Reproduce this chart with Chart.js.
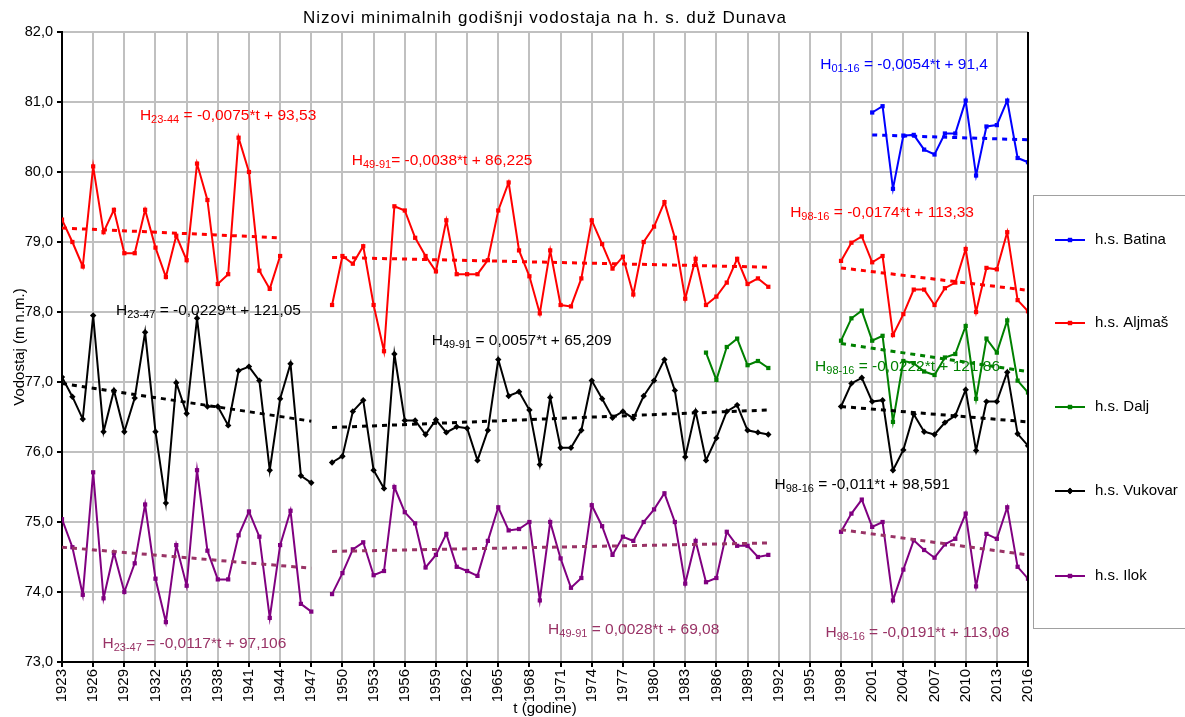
<!DOCTYPE html>
<html>
<head>
<meta charset="utf-8">
<script src="https://cdn.jsdelivr.net/npm/chart.js@4.4.1/dist/chart.umd.min.js"></script>
<style>
  html, body { margin: 0; padding: 0; background: #fff; }
  #wrap { width: 1185px; height: 717px; }
</style>
</head>
<body>
<div id="wrap"><canvas id="c" width="1185" height="717"></canvas></div>
<script>
// ---- DATA ----
const xTickYears = [1923, 1926, 1929, 1932, 1935, 1938, 1941, 1944, 1947, 1950, 1953, 1956, 1959, 1962, 1965, 1968, 1971, 1974, 1977, 1980, 1983, 1986, 1989, 1992, 1995, 1998, 2001, 2004, 2007, 2010, 2013, 2016];
const yTicks = [73, 74, 75, 76, 77, 78, 79, 80, 81, 82];

const batina2001 = [80.85, 80.94, 79.76, 80.52, 80.53, 80.32, 80.25, 80.55, 80.55, 81.02, 79.95, 80.65, 80.67, 81.02, 80.20, 80.14];

const aljmas1923 = [79.32, 79.00, 78.65, 80.08, 79.14, 79.46, 78.84, 78.84, 79.46, 78.92, 78.50, 79.09, 78.74, 80.12, 79.60, 78.40, 78.54, 80.49, 80.00, 78.59, 78.33, 78.80];
const aljmas1949 = [78.10, 78.80, 78.69, 78.94, 78.10, 77.44, 79.51, 79.45, 79.06, 78.80, 78.58, 79.31, 78.54, 78.54, 78.54, 78.74, 79.45, 79.85, 78.88, 78.51, 77.98, 78.88, 78.10, 78.08, 78.48, 79.31, 78.97, 78.62, 78.79, 78.25, 79.00, 79.22, 79.57, 79.06, 78.19, 78.76, 78.10, 78.22, 78.42, 78.76, 78.40, 78.48, 78.36];
const aljmas1998 = [78.73, 78.99, 79.08, 78.71, 78.80, 77.67, 77.97, 78.32, 78.32, 78.10, 78.34, 78.42, 78.90, 78.00, 78.63, 78.61, 79.14, 78.17, 78.01];

const dalj1985 = [77.42, 77.03, 77.50, 77.62, 77.24, 77.30, 77.20];
const dalj1998 = [77.59, 77.91, 78.02, 77.59, 77.66, 76.43, 77.30, 77.27, 77.15, 77.10, 77.35, 77.40, 77.80, 76.76, 77.62, 77.42, 77.88, 77.02, 76.85];

const vukovar1923 = [77.07, 76.79, 76.47, 77.95, 76.29, 76.88, 76.29, 76.77, 77.71, 76.29, 75.27, 76.99, 76.55, 77.91, 76.65, 76.65, 76.38, 77.16, 77.22, 77.02, 75.74, 76.76, 77.26, 75.66, 75.56];
const vukovar1949 = [75.85, 75.94, 76.58, 76.74, 75.74, 75.48, 77.40, 76.45, 76.45, 76.25, 76.46, 76.28, 76.36, 76.34, 75.88, 76.31, 77.32, 76.80, 76.86, 76.60, 75.82, 76.78, 76.06, 76.06, 76.31, 77.02, 76.76, 76.49, 76.58, 76.48, 76.80, 77.02, 77.32, 76.88, 75.93, 76.58, 75.88, 76.20, 76.58, 76.67, 76.31, 76.28, 76.25];
const vukovar1998 = [76.65, 76.98, 77.06, 76.72, 76.74, 75.74, 76.03, 76.54, 76.29, 76.25, 76.42, 76.52, 76.89, 76.02, 76.72, 76.72, 77.14, 76.26, 76.09];

const ilok1923 = [75.04, 74.64, 73.96, 75.71, 73.91, 74.56, 74.00, 74.41, 75.25, 74.19, 73.57, 74.67, 74.09, 75.74, 74.59, 74.18, 74.18, 74.81, 75.15, 74.79, 73.63, 74.67, 75.16, 73.83, 73.72];
const ilok1949 = [73.97, 74.27, 74.61, 74.71, 74.24, 74.30, 75.50, 75.14, 74.98, 74.35, 74.53, 74.83, 74.36, 74.30, 74.23, 74.73, 75.21, 74.88, 74.90, 75.00, 73.88, 75.00, 74.48, 74.06, 74.20, 75.24, 74.94, 74.53, 74.79, 74.73, 75.00, 75.18, 75.41, 75.00, 74.12, 74.73, 74.14, 74.20, 74.86, 74.66, 74.66, 74.50, 74.53];
const ilok1998 = [74.86, 75.12, 75.32, 74.93, 75.00, 73.88, 74.32, 74.74, 74.60, 74.49, 74.68, 74.76, 75.12, 74.08, 74.83, 74.76, 75.21, 74.36, 74.19];

// trend line end points: [startYear, endYear, startValue, endValue]
const trendBatina = [[2001, 2016, 80.53, 80.46]];
const trendAljmas = [[1923, 1944, 79.20, 79.06], [1949, 1991, 78.78, 78.64], [1998, 2016, 78.63, 78.31]];
const trendDalj = [[1998, 2016, 77.55, 77.15]];
const trendVukovar = [[1923, 1947, 76.98, 76.44], [1949, 1991, 76.35, 76.60], [1998, 2016, 76.65, 76.43]];
const trendIlok = [[1923, 1947, 74.64, 74.34], [1949, 1991, 74.58, 74.70], [1998, 2016, 74.89, 74.53]];

const seriesNames = ['h.s. Batina', 'h.s. Aljmaš', 'h.s. Dalj', 'h.s. Vukovar', 'h.s. Ilok'];

// equations: [anchorYear, anchorValue, subscript, rest, colorKey]
const equations = [
  [1930.5, 80.81, '23-44', ' = -0,0075*t + 93,53', 'red'],
  [1950.9, 80.17, '49-91', '= -0,0038*t + 86,225', 'red'],
  [1996.0, 81.54, '01-16', ' = -0,0054*t + 91,4', 'blue'],
  [1993.1, 79.43, '98-16', ' = -0,0174*t + 113,33', 'red'],
  [1928.2, 78.03, '23-47', ' = -0,0229*t + 121,05', 'black'],
  [1958.6, 77.60, '49-91', ' = 0,0057*t + 65,209', 'black'],
  [1995.5, 77.23, '98-16', ' = -0,0222*t + 121,86', 'green'],
  [1991.6, 75.54, '98-16', ' = -0,011*t + 98,591', 'black'],
  [1926.9, 73.27, '23-47', ' = -0,0117*t + 97,106', 'ilokTrend'],
  [1969.8, 73.47, '49-91', ' = 0,0028*t + 69,08', 'ilokTrend'],
  [1996.5, 73.43, '98-16', ' = -0,0191*t + 113,08', 'ilokTrend']
];

// ---- STYLES ----
const COLORS = { blue: '#0000FF', red: '#FF0000', green: '#008000', black: '#000000', purple: '#800080', ilokTrend: '#993366' };
const FONT = "'Liberation Sans', Arial, sans-serif";

// ---- helpers building library data ----
function segs(list) {
  const out = [];
  list.forEach(([start, vals], i) => {
    if (i > 0) out.push({ x: start - 0.5, y: null });
    vals.forEach((v, k) => out.push({ x: start + k, y: v }));
  });
  return out;
}
function trendPts(list) {
  const out = [];
  list.forEach(([a, b, va, vb], i) => {
    if (i > 0) out.push({ x: a - 0.5, y: null });
    out.push({ x: a, y: va }, { x: b, y: vb });
  });
  return out;
}
function mainDs(label, color, data, style, r) {
  return { label, data, borderColor: color, backgroundColor: color, borderWidth: 2,
    pointStyle: style, pointRadius: r, pointHoverRadius: r, pointBorderWidth: 0,
    spanGaps: false, tension: 0, order: 1 };
}
function trendDs(color, data) {
  return { label: '_trend', data, borderColor: color, borderWidth: 3, borderDash: [5, 5],
    pointRadius: 0, pointHoverRadius: 0, spanGaps: false, tension: 0, order: 0, fill: false };
}

const styleOf = [
  { color: COLORS.blue, style: 'rect', r: 3 },
  { color: COLORS.red, style: 'rect', r: 3 },
  { color: COLORS.green, style: 'rect', r: 3 },
  { color: COLORS.black, style: 'rectRot', r: 3.2 },
  { color: COLORS.purple, style: 'rect', r: 3 }
];

const datasets = [
  mainDs(seriesNames[0], styleOf[0].color, segs([[2001, batina2001]]), styleOf[0].style, styleOf[0].r),
  mainDs(seriesNames[1], styleOf[1].color, segs([[1923, aljmas1923], [1949, aljmas1949], [1998, aljmas1998]]), styleOf[1].style, styleOf[1].r),
  mainDs(seriesNames[2], styleOf[2].color, segs([[1985, dalj1985], [1998, dalj1998]]), styleOf[2].style, styleOf[2].r),
  mainDs(seriesNames[3], styleOf[3].color, segs([[1923, vukovar1923], [1949, vukovar1949], [1998, vukovar1998]]), styleOf[3].style, styleOf[3].r),
  mainDs(seriesNames[4], styleOf[4].color, segs([[1923, ilok1923], [1949, ilok1949], [1998, ilok1998]]), styleOf[4].style, styleOf[4].r),
  trendDs(COLORS.blue, trendPts(trendBatina)),
  trendDs(COLORS.red, trendPts(trendAljmas)),
  trendDs(COLORS.green, trendPts(trendDalj)),
  trendDs(COLORS.black, trendPts(trendVukovar)),
  trendDs(COLORS.ilokTrend, trendPts(trendIlok))
];

const decor = {
  id: 'decor',
  beforeDraw(chart) {
    const ctx = chart.ctx;
    ctx.save();
    ctx.fillStyle = '#fff';
    ctx.fillRect(0, 0, chart.width, chart.height);
    ctx.restore();
  },
  afterDraw(chart) {
    const ctx = chart.ctx;
    const a = chart.chartArea;
    const xs = chart.scales.x, ys = chart.scales.y;
    ctx.save();
    // right border of plot
    ctx.strokeStyle = '#000';
    ctx.lineWidth = 2;
    ctx.beginPath();
    ctx.moveTo(a.right, a.top); ctx.lineTo(a.right, a.bottom);
    ctx.stroke();

    // title
    ctx.fillStyle = '#000';
    ctx.font = '17px ' + FONT;
    ctx.textAlign = 'center';
    ctx.textBaseline = 'middle';
    try { ctx.letterSpacing = '1px'; } catch (e) {}
    ctx.fillText('Nizovi minimalnih godišnji vodostaja na h. s. duž Dunava', (a.left + a.right) / 2, 18);
    try { ctx.letterSpacing = '0px'; } catch (e) {}

    // axis titles
    ctx.font = '15px ' + FONT;
    ctx.fillText('t (godine)', (a.left + a.right) / 2, 709);
    ctx.save();
    ctx.translate(20, (a.top + a.bottom) / 2);
    ctx.rotate(-Math.PI / 2);
    ctx.fillText('Vodostaj (m n.m.)', 0, 0);
    ctx.restore();

    // equations
    ctx.textAlign = 'left';
    ctx.textBaseline = 'alphabetic';
    equations.forEach(([yr, val, sub, rest, ck]) => {
      const px = xs.getPixelForValue(yr);
      const py = ys.getPixelForValue(val) + 5;
      ctx.fillStyle = COLORS[ck];
      ctx.font = '15.5px ' + FONT;
      ctx.fillText('H', px, py);
      let w = ctx.measureText('H').width;
      ctx.font = '11px ' + FONT;
      ctx.fillText(sub, px + w, py + 3);
      w += ctx.measureText(sub).width;
      ctx.font = '15.5px ' + FONT;
      ctx.fillText(rest, px + w, py);
    });

    // legend box
    ctx.strokeStyle = '#a0a0a0';
    ctx.lineWidth = 1;
    ctx.strokeRect(1033.5, 195.5, 170, 433);
    const ly = [240, 323, 407, 491, 576];
    ctx.font = '15px ' + FONT;
    ctx.textBaseline = 'middle';
    seriesNames.forEach((name, i) => {
      const st = styleOf[i];
      ctx.strokeStyle = st.color;
      ctx.lineWidth = 2;
      ctx.beginPath();
      ctx.moveTo(1055, ly[i]); ctx.lineTo(1085, ly[i]);
      ctx.stroke();
      ctx.fillStyle = st.color;
      Chart.helpers.drawPoint(ctx, { pointStyle: st.style, radius: st.r, borderWidth: 0 }, 1070, ly[i]);
      ctx.fill();
      ctx.fillStyle = '#000';
      ctx.fillText(name, 1095, ly[i]);
    });
    ctx.restore();
  }
};

new Chart(document.getElementById('c'), {
  type: 'line',
  data: { datasets },
  plugins: [decor],
  options: {
    responsive: false,
    animation: false,
    parsing: true,
    layout: { padding: { left: 0, top: 32, right: 157, bottom: 0 } },
    plugins: { legend: { display: false }, tooltip: { enabled: false }, title: { display: false } },
    scales: {
      x: {
        type: 'linear', min: 1923, max: 2016,
        afterFit: s => { s.height = 55; },
        afterBuildTicks: s => { s.ticks = xTickYears.map(v => ({ value: v })); },
        ticks: { autoSkip: false, maxRotation: 90, minRotation: 90, color: '#000',
          font: { family: FONT, size: 15 }, padding: 2, callback: v => String(v) },
        grid: { color: '#c0c0c0', lineWidth: 2, tickLength: 5, tickColor: '#000' },
        border: { color: '#000', width: 2 }
      },
      y: {
        min: 73, max: 82,
        afterFit: s => { s.width = 62; },
        afterBuildTicks: s => { s.ticks = yTicks.map(v => ({ value: v })); },
        ticks: { color: '#000', font: { family: FONT, size: 14.5 }, padding: 4,
          callback: v => v.toFixed(1).replace('.', ',') },
        grid: { color: '#c0c0c0', lineWidth: 2, tickLength: 5, tickColor: '#000' },
        border: { color: '#000', width: 2 }
      }
    }
  }
});
</script>
</body>
</html>
